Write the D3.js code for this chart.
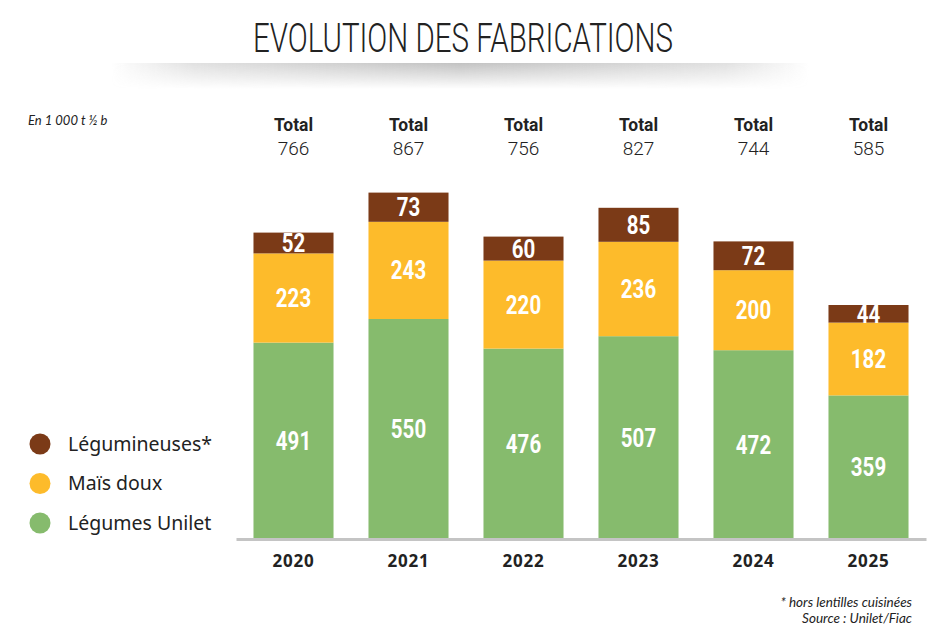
<!DOCTYPE html>
<html>
<head>
<meta charset="utf-8">
<script src="https://cdn.jsdelivr.net/npm/d3@7"></script>
<style>
  body { margin: 0; background: #fff; }
  .cond { font-family: Roboto, sans-serif; }
</style>
</head>
<body>
<div id="chart"></div>
<script>
const years = ["2020", "2021", "2022", "2023", "2024", "2025"];
const legumesUnilet = [491, 550, 476, 507, 472, 359];
const maisDoux = [223, 243, 220, 236, 200, 182];
const legumineuses = [52, 73, 60, 85, 72, 44];
const totals = [766, 867, 756, 827, 744, 585];
const seriesNames = ["Légumes Unilet", "Maïs doux", "Légumineuses*"];
const seriesColors = ["#86BB6D", "#FDBB2B", "#7B3A17"];

const width = 932, height = 630;
const baseY = 539;
const squeeze = 0.82;

const svg = d3.select("#chart").append("svg")
    .attr("width", width)
    .attr("height", height);

// title shadow
const defs = svg.append("defs");
const hGrad = defs.append("linearGradient").attr("id", "hshade");
hGrad.append("stop").attr("offset", "0%").attr("stop-color", "#999").attr("stop-opacity", 0);
hGrad.append("stop").attr("offset", "12%").attr("stop-color", "#999").attr("stop-opacity", 0.3);
hGrad.append("stop").attr("offset", "50%").attr("stop-color", "#999").attr("stop-opacity", 0.6);
hGrad.append("stop").attr("offset", "88%").attr("stop-color", "#999").attr("stop-opacity", 0.3);
hGrad.append("stop").attr("offset", "100%").attr("stop-color", "#999").attr("stop-opacity", 0);
const vGrad = defs.append("linearGradient").attr("id", "vshade")
    .attr("x1", 0).attr("y1", 0).attr("x2", 0).attr("y2", 1);
vGrad.append("stop").attr("offset", "0%").attr("stop-color", "#fff").attr("stop-opacity", 1);
vGrad.append("stop").attr("offset", "100%").attr("stop-color", "#fff").attr("stop-opacity", 0);
defs.append("mask").attr("id", "vmask")
    .append("rect")
    .attr("x", 0).attr("y", 63).attr("width", width).attr("height", 26)
    .attr("fill", "url(#vshade)");
svg.append("rect")
    .attr("x", 110).attr("y", 63).attr("width", 700).attr("height", 26)
    .attr("fill", "url(#hshade)")
    .attr("mask", "url(#vmask)");

svg.append("text")
    .attr("x", 463).attr("y", 52)
    .attr("text-anchor", "middle")
    .attr("textLength", 420)
    .attr("lengthAdjust", "spacingAndGlyphs")
    .style("font-family", "Roboto, sans-serif")
    .style("font-size", "40px")
    .style("font-weight", 300)
    .attr("fill", "#222")
    .text("EVOLUTION DES FABRICATIONS");

svg.append("text")
    .attr("x", 28).attr("y", 125)
    .style("font-family", "Lato, sans-serif")
    .style("font-style", "italic")
    .style("font-size", "13px")
    .attr("fill", "#222")
    .text("En 1 000 t ½ b");

const x = d3.scaleBand()
    .domain(years)
    .range([236, 926])
    .paddingInner(0.304)
    .paddingOuter(0.152);

const y = d3.scaleLinear()
    .domain([0, 1000])
    .range([baseY, baseY - 400]);

const rows = years.map((yr, i) => ({
    year: yr,
    "Légumes Unilet": legumesUnilet[i],
    "Maïs doux": maisDoux[i],
    "Légumineuses*": legumineuses[i]
}));
const stack = d3.stack().keys(seriesNames)(rows);

const layer = svg.selectAll(".layer")
    .data(stack)
    .enter().append("g")
    .attr("class", "layer")
    .attr("fill", (d, i) => seriesColors[i]);

layer.selectAll("rect")
    .data(d => d)
    .enter().append("rect")
    .attr("x", d => x(d.data.year))
    .attr("y", d => y(d[1]))
    .attr("width", x.bandwidth())
    .attr("height", d => y(d[0]) - y(d[1]));

layer.selectAll("text")
    .data(d => d.map(v => ({ v: v, key: d.key })))
    .enter().append("text")
    .attr("class", "cond")
    .attr("transform", d => {
        const cx = x(d.v.data.year) + x.bandwidth() / 2;
        const cy = (y(d.v[0]) + y(d.v[1])) / 2;
        return `translate(${cx}, ${cy}) scale(${squeeze}, 1)`;
    })
    .attr("dy", "0.36em")
    .attr("text-anchor", "middle")
    .attr("fill", "#fff")
    .style("font-size", "25px")
    .style("font-weight", "bold")
    .text(d => d.v.data[d.key]);

// axis
const xAxis = d3.axisBottom(x).tickSize(0).tickPadding(16);
const gx = svg.append("g")
    .attr("transform", `translate(0, ${baseY})`)
    .call(xAxis);
gx.select(".domain").attr("stroke", "#c4c4c4").attr("stroke-width", 3);
gx.selectAll("text")
    .style("font-family", "'Noto Sans', sans-serif")
    .style("font-size", "17px")
    .style("font-weight", "bold")
    .style("letter-spacing", "0.8px")
    .attr("fill", "#222");

// totals
const tot = svg.selectAll(".total")
    .data(years)
    .enter().append("g")
    .attr("class", "total cond")
    .attr("fill", "#222")
    .attr("transform", d => `translate(${x(d) + x.bandwidth() / 2}, 0)`);
tot.append("text")
    .attr("transform", "translate(0, 131) scale(0.92, 1)")
    .attr("text-anchor", "middle")
    .style("font-size", "19px")
    .style("font-weight", "bold")
    .text("Total");
tot.append("text")
    .attr("y", 155)
    .attr("text-anchor", "middle")
    .style("font-size", "19px")
    .style("font-weight", 300)
    .text((d, i) => totals[i]);

// legend
const legendOrder = [2, 1, 0];
const legend = svg.selectAll(".legend")
    .data(legendOrder)
    .enter().append("g")
    .attr("class", "legend")
    .attr("transform", (d, i) => `translate(40, ${444 + i * 39.5})`);
legend.append("circle")
    .attr("r", 10.5)
    .attr("fill", d => seriesColors[d]);
legend.append("text")
    .attr("x", 28)
    .attr("dy", "0.35em")
    .style("font-family", "'Noto Sans', sans-serif")
    .style("font-size", "19.5px")
    .attr("fill", "#222")
    .text(d => seriesNames[d]);

// notes
const notes = ["* hors lentilles cuisinées", "Source : Unilet/Fiac"];
svg.selectAll(".note")
    .data(notes)
    .enter().append("text")
    .attr("x", 912)
    .attr("y", (d, i) => 607 + i * 16)
    .attr("text-anchor", "end")
    .style("font-family", "Lato, sans-serif")
    .style("font-style", "italic")
    .style("font-size", "13.5px")
    .attr("fill", "#222")
    .text(d => d);
</script>
</body>
</html>
